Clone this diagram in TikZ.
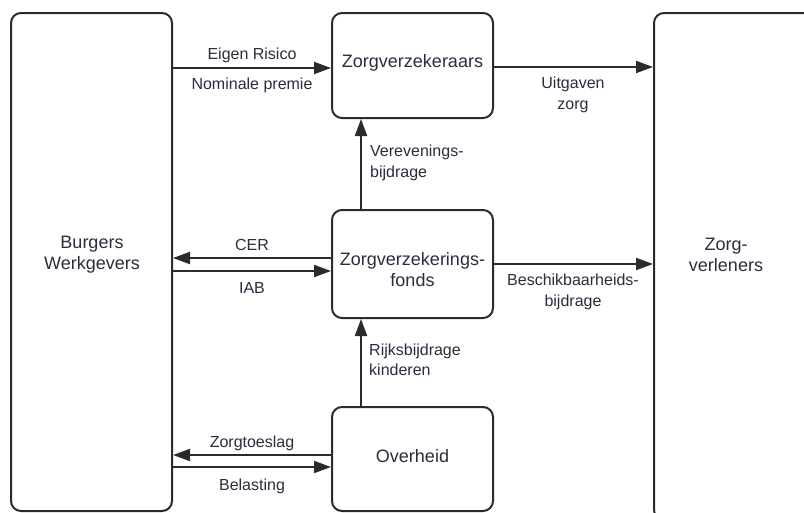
\documentclass[tikz,border=0pt]{standalone}
\usepackage{fontspec}
\setmainfont{Liberation Sans}
\usetikzlibrary{arrows.meta}
\definecolor{ink}{HTML}{2B2B2B}
\definecolor{txt}{HTML}{2A2D3E}
\begin{document}
\begin{tikzpicture}[x=1pt,y=-1pt,
  box/.style={draw=ink, line width=2pt, rounded corners=10pt, inner sep=0pt},
  boxtext/.style={font=\fontsize{18}{21}\selectfont, text=txt, align=center, inner sep=0pt},
  lab/.style={font=\fontsize{16}{20.5}\selectfont, text=txt, align=center, inner sep=0pt},
  labl/.style={lab, align=left, anchor=west},
  flow/.style={draw=ink, line width=2pt, -{Triangle[length=17pt,width=12pt]}}]
\clip (0,0) rectangle (804,512);
\fill[white] (0,0) rectangle (804,512);
% boxes
\node[box, minimum width=161pt, minimum height=498pt] (lb) at (91.5,262) {};
\node[box, minimum width=161pt, minimum height=105pt] (zv) at (412.5,65.5) {};
\node[box, minimum width=161pt, minimum height=108pt] (zf) at (412.5,264) {};
\node[box, minimum width=161pt, minimum height=104pt] (ov) at (412.5,459) {};
\node[box, minimum width=162pt, minimum height=507pt] (zl) at (735,266.5) {};
% box texts
\node[boxtext] (lbt) at (92,254.5) {Burgers\\Werkgevers};
\node[boxtext] (zvt) at (412.5,63) {Zorgverzekeraars};
\node[boxtext] (zft) at (412.5,270) {Zorgverzekerings-\\fonds};
\node[boxtext] (ovt) at (412.5,456) {Overheid};
\node[boxtext] (zlt) at (726,255) {Zorg-\\verleners};
% connectors
\draw[flow] (lb.east |- 0,68) -- (zv.west |- 0,68);
\draw[flow] (zv.east |- 0,67) -- (zl.west |- 0,67);
\draw[flow] (zf.north -| 361,0) -- (zv.south -| 361,0);
\draw[flow] (zf.west |- 0,258) -- (lb.east |- 0,258);
\draw[flow] (lb.east |- 0,271) -- (zf.west |- 0,271);
\draw[flow] (zf.east |- 0,264) -- (zl.west |- 0,264);
\draw[flow] (ov.north -| 361,0) -- (zf.south -| 361,0);
\draw[flow] (ov.west |- 0,455) -- (lb.east |- 0,455);
\draw[flow] (lb.east |- 0,467) -- (ov.west |- 0,467);
% labels
\node[lab] (l1) at (252,55) {Eigen Risico};
\node[lab] (l2) at (252,85) {Nominale premie};
\node[lab] (l3) at (573,95) {Uitgaven\\zorg};
\node[labl] (l4) at (370,163) {Verevenings-\\bijdrage};
\node[lab] (l5) at (252,245) {CER};
\node[lab] (l6) at (252,288) {IAB};
\node[lab] (l7) at (573,292) {Beschikbaarheids-\\bijdrage};
\node[labl] (l8) at (369,360) {Rijksbijdrage\\kinderen};
\node[lab] (l9) at (252,443) {Zorgtoeslag};
\node[lab] (l10) at (252,486) {Belasting};
\end{tikzpicture}
\end{document}
